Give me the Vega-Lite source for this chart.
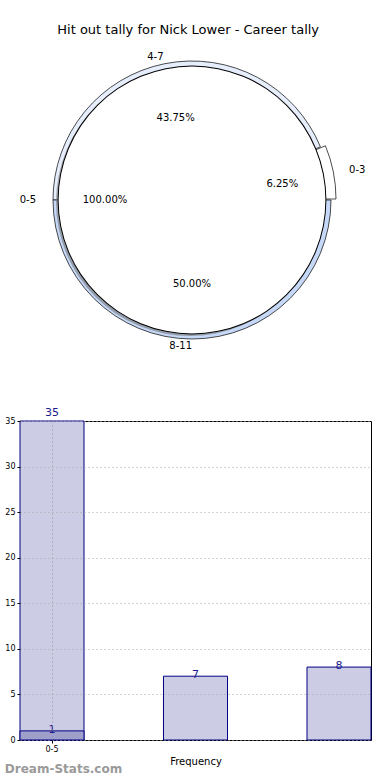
{
  "$schema": "https://vega.github.io/schema/vega-lite/v6.json",
  "padding": {"left": 4, "top": 23, "right": 0, "bottom": 0},
  "background": "white",
  "bounds": "flush",
  "spacing": 71,
  "title": {"text": "Hit out tally for Nick Lower - Career tally", "fontSize": 13, "font": "DejaVu Sans", "fontWeight": "normal", "anchor": "middle", "offset": 6, "color": "black"},
  "config": {"font": "DejaVu Sans", "view": {"stroke": null}},
  "datasets": {
    "ranges": [
      {"bin": "0-3", "pct": 6.25, "label": "6.25%", "order": 1},
      {"bin": "4-7", "pct": 43.75, "label": "43.75%", "order": 2},
      {"bin": "8-11", "pct": 50, "label": "50.00%", "order": 3}
    ],
    "front": [
      {"bin": "0-5", "pct": 100, "label": "100.00%", "order": 1}
    ],
    "bars": [
      {"bin": "0-5", "count": 35},
      {"bin": "6-11", "count": 7},
      {"bin": "12-17", "count": 8}
    ],
    "overlay": [
      {"bin": "0-5", "count": 1}
    ]
  },
  "vconcat": [
    {
      "width": 344,
      "height": 300,
      "view": {"stroke": null},
      "layer": [
        {
          "data": {"name": "ranges"},
          "mark": {"type": "arc", "radius": 139, "stroke": "black", "strokeWidth": 0.7},
          "encoding": {
            "theta": {"field": "pct", "type": "quantitative", "stack": true, "scale": {"domain": [0, 100], "range": [1.5707963, -4.712389]}},
            "order": {"field": "order"},
            "color": {"field": "bin", "type": "nominal", "scale": {"domain": ["0-3", "4-7", "8-11"], "range": ["#ffffff", "#e6edfc", "#c6d8f7"]}, "legend": null},
            "opacity": {"condition": {"test": "datum.bin === '0-3'", "value": 0}, "value": 1}
          }
        },
        {
          "data": {"name": "ranges"},
          "mark": {"type": "arc", "radius": 139, "stroke": "black", "strokeWidth": 0.7, "xOffset": 5, "yOffset": -1},
          "encoding": {
            "theta": {"field": "pct", "type": "quantitative", "stack": true},
            "order": {"field": "order"},
            "color": {"field": "bin", "type": "nominal", "legend": null},
            "opacity": {"condition": {"test": "datum.bin === '0-3'", "value": 1}, "value": 0}
          }
        },
        {
          "data": {"name": "front"},
          "mark": {"type": "arc", "radius": 134, "fill": "#777777", "opacity": 0.6, "xOffset": -2, "yOffset": 2},
          "encoding": {
            "theta": {"field": "pct", "type": "quantitative", "stack": true},
            "order": {"field": "order"}
          }
        },
        {
          "data": {"name": "front"},
          "mark": {"type": "arc", "radius": 134, "fill": "white"},
          "encoding": {
            "theta": {"field": "pct", "type": "quantitative", "stack": true},
            "order": {"field": "order"}
          }
        },
        {
          "data": {"name": "front"},
          "mark": {"type": "arc", "radius": 134.4, "radius2": 133.4, "fill": "black"},
          "encoding": {
            "theta": {"field": "pct", "type": "quantitative", "stack": true},
            "order": {"field": "order"}
          }
        },
        {
          "data": {"name": "ranges"},
          "mark": {"type": "text", "radius": 84, "fontSize": 10, "align": "center", "baseline": "middle", "color": "black"},
          "encoding": {
            "theta": {"field": "pct", "type": "quantitative", "stack": true},
            "order": {"field": "order"},
            "text": {"condition": {"test": "datum.bin !== '0-3'", "field": "label"}, "value": ""}
          }
        },
        {
          "data": {"name": "ranges"},
          "mark": {"type": "text", "radius": 88, "fontSize": 10, "align": "center", "baseline": "middle", "color": "black", "xOffset": 4, "yOffset": 1},
          "encoding": {
            "theta": {"field": "pct", "type": "quantitative", "stack": true},
            "order": {"field": "order"},
            "text": {"condition": {"test": "datum.bin === '0-3'", "field": "label"}, "value": ""}
          }
        },
        {
          "data": {"name": "front"},
          "mark": {"type": "text", "radius": 87, "fontSize": 10, "align": "center", "baseline": "middle", "color": "black"},
          "encoding": {
            "theta": {"field": "pct", "type": "quantitative", "stack": true},
            "order": {"field": "order"},
            "text": {"field": "label"}
          }
        },
        {
          "data": {"name": "ranges"},
          "mark": {"type": "text", "radius": 155, "fontSize": 10, "align": "left", "baseline": "middle", "color": "black", "xOffset": 5},
          "encoding": {
            "theta": {"field": "pct", "type": "quantitative", "stack": true},
            "order": {"field": "order"},
            "text": {"condition": {"test": "datum.bin === '0-3'", "field": "bin"}, "value": ""}
          }
        },
        {
          "data": {"name": "ranges"},
          "mark": {"type": "text", "radius": 146, "fontSize": 10, "align": "right", "baseline": "middle", "color": "black"},
          "encoding": {
            "theta": {"field": "pct", "type": "quantitative", "stack": true},
            "order": {"field": "order"},
            "text": {"condition": {"test": "datum.bin !== '0-3'", "field": "bin"}, "value": ""}
          }
        },
        {
          "data": {"name": "front"},
          "mark": {"type": "text", "radius": 156, "fontSize": 10, "align": "right", "baseline": "middle", "color": "black"},
          "encoding": {
            "theta": {"field": "pct", "type": "quantitative", "stack": true},
            "order": {"field": "order"},
            "text": {"field": "bin"}
          }
        }
      ]
    },
    {
      "width": 351,
      "height": 319,
      "view": {"stroke": "black", "strokeWidth": 1},
      "title": {"text": "Dream-Stats.com", "orient": "bottom", "anchor": "start", "fontSize": 12, "fontWeight": "bold", "color": "#9a9a9a", "offset": -2, "font": "DejaVu Sans"},
      "encoding": {
        "x": {
          "field": "bin", "type": "ordinal", "sort": ["0-5", "6-11", "12-17"],
          "scale": {"paddingInner": 0.554, "paddingOuter": 0},
          "axis": {"values": ["0-5"], "title": "Frequency", "titleFontSize": 10, "titleFontWeight": "normal", "titlePadding": 3, "labelFontSize": 8, "labelAngle": 0, "labelColor": "black", "tickColor": "black", "tickSize": 3, "domain": false, "grid": true, "gridDash": [1, 3], "gridColor": "#999999", "bandPosition": 0.5, "zindex": 1, "labelPadding": 2}
        },
        "y": {
          "field": "count", "type": "quantitative",
          "scale": {"domain": [0, 35], "nice": false},
          "axis": {"values": [0, 5, 10, 15, 20, 25, 30, 35], "title": null, "labelFontSize": 8, "labelColor": "black", "tickColor": "black", "tickSize": 3, "domain": false, "grid": true, "gridDash": [1, 3], "gridColor": "#aaaaaa", "zindex": 1, "labelPadding": 2}
        }
      },
      "layer": [
        {
          "data": {"name": "bars"},
          "mark": {"type": "bar", "fill": "#ccccE5", "stroke": "#000080", "strokeWidth": 1}
        },
        {
          "data": {"name": "overlay"},
          "mark": {"type": "bar", "fill": "#9f9fcc", "stroke": "#000080", "strokeWidth": 1}
        },
        {
          "data": {"name": "bars"},
          "transform": [{"filter": "datum.count < 35"}],
          "mark": {"type": "text", "baseline": "bottom", "dy": 4, "fontSize": 11, "color": "#1a1a8c"},
          "encoding": {"text": {"field": "count"}}
        },
        {
          "data": {"name": "bars"},
          "transform": [{"filter": "datum.count >= 35"}],
          "mark": {"type": "text", "baseline": "bottom", "dy": -3, "fontSize": 11, "color": "#1a1a8c"},
          "encoding": {"text": {"field": "count"}}
        },
        {
          "data": {"name": "overlay"},
          "mark": {"type": "text", "baseline": "bottom", "dy": 4, "fontSize": 11, "color": "#1a1a8c"},
          "encoding": {"text": {"field": "count"}}
        }
      ]
    }
  ]
}
